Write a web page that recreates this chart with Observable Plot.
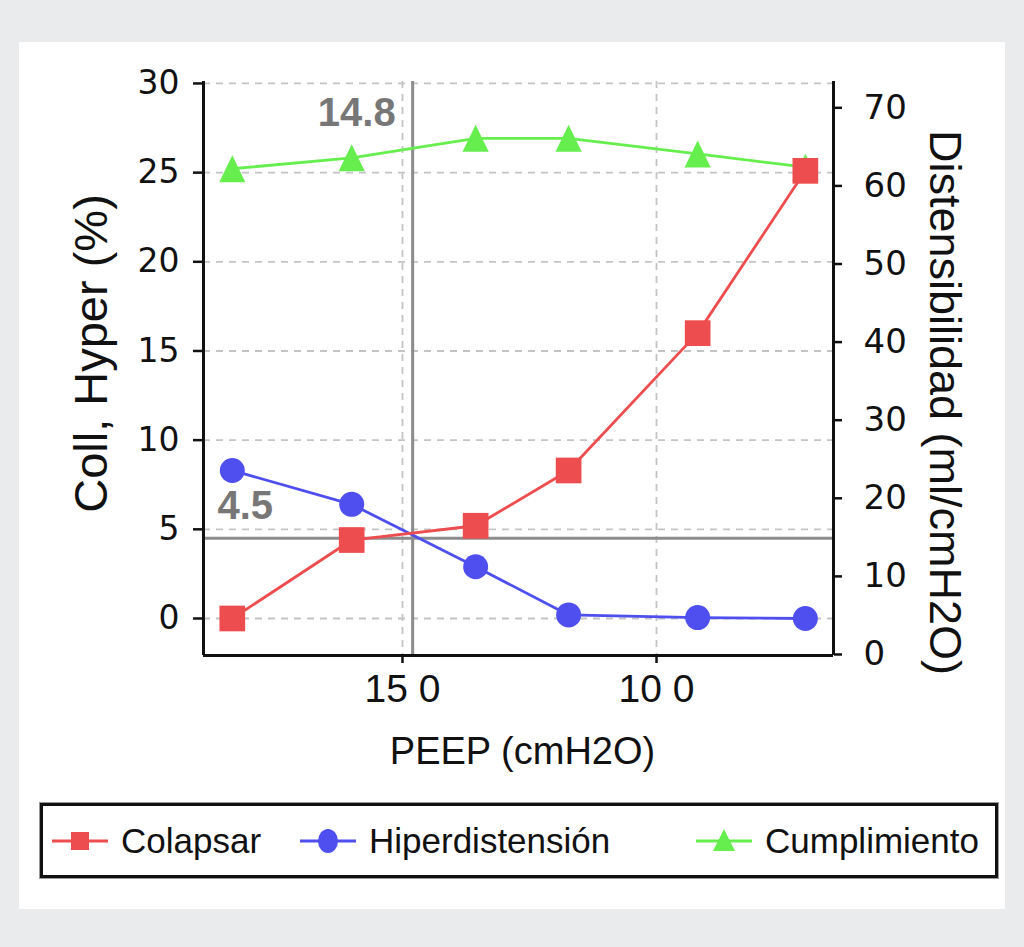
<!DOCTYPE html>
<html>
<head>
<meta charset="utf-8">
<script src="https://cdn.jsdelivr.net/npm/d3@7"></script>
<script src="https://cdn.jsdelivr.net/npm/@observablehq/plot@0.6"></script>
<style>
  html, body { margin: 0; padding: 0; width: 1024px; height: 947px; overflow: hidden; background: #eaebed; }
  #panel { position: absolute; left: 19px; top: 42px; width: 986px; height: 867px; background: #ffffff; }
  #chart { position: absolute; left: 0; top: 0; }
  #legend { position: absolute; left: 40px; top: 803px; width: 952px; height: 69px; border: 3px solid #111; background: #fff;
            box-shadow: 0 0 0 1px #9a9a9a; font-family: "Liberation Sans", Arial, sans-serif; font-size: 35px; color: #111; }
  .item { position: absolute; top: 0; height: 69px; display: flex; align-items: center; white-space: nowrap; }
  .item svg { display: block; margin-right: 13px; }
</style>
</head>
<body>
<div id="panel"></div>
<div id="chart"></div>
<div id="legend"></div>
<script>
// ---- data ----
const peep = [18.35, 16.0, 13.56, 11.73, 9.19, 7.07];
const colapsar = [0, 4.4, 5.2, 8.3, 16.0, 25.1];
const hiperdistension = [8.3, 6.4, 2.9, 0.2, 0.05, 0];
const cumplimiento = [62.2, 63.6, 66.1, 66.1, 64.1, 62.4];

const seriesNames = ["Colapsar", "Hiperdistensión", "Cumplimiento"];
const seriesColors = ["#ee4d4f", "#4f4ff0", "#66ee4f"];
const seriesSymbols = ["square", "circle", "triangle"];

const xTicks = [15, 10];
const xTickLabels = ["15 0", "10 0"];
const leftTicks = [0, 5, 10, 15, 20, 25, 30];
const rightTicks = [0, 10, 20, 30, 40, 50, 60, 70];

const peepThreshold = 14.8;
const collThreshold = 4.5;

const xDomain = [18.917, 6.516];
const leftDomain = [-2.075, 30.11];
const rightDomain = [-0.13, 73.37];

const xLabel = "PEEP (cmH2O)";
const leftLabel = "Coll, Hyper (%)";
const rightLabel = "Distensibilidad (ml/cmH2O)";

// ---- helpers ----
const toLeft = r => leftDomain[0] + (r - rightDomain[0]) / (rightDomain[1] - rightDomain[0]) * (leftDomain[1] - leftDomain[0]);
const toRight = l => rightDomain[0] + (l - leftDomain[0]) / (leftDomain[1] - leftDomain[0]) * (rightDomain[1] - rightDomain[0]);

const triUp = {
  draw(context, size) {
    const a = Math.sqrt(size / Math.PI);
    context.moveTo(0, -a);
    context.lineTo(a * 0.97, a);
    context.lineTo(-a * 0.97, a);
    context.closePath();
  }
};

const data = peep.map((p, i) => ({
  peep: p,
  col: colapsar[i],
  hip: hiperdistension[i],
  cum: toLeft(cumplimiento[i])
}));

const sans = "Liberation Sans, Arial, sans-serif";
const tickFont = "DejaVu Sans, sans-serif";
const ink = "#111";
const refGray = "#8c8c8c";
const lw = 2.8;

const chart = Plot.plot({
  width: 1024,
  height: 790,
  marginLeft: 203,
  marginRight: 191,
  marginTop: 81,
  marginBottom: 135,
  style: { background: "transparent", overflow: "visible", fontFamily: sans },
  x: { domain: xDomain },
  y: { domain: leftDomain },
  marks: [
    Plot.gridY(leftTicks, { stroke: "#c4c4c4", strokeOpacity: 1, strokeWidth: 1.8, strokeDasharray: "7,6" }),
    Plot.gridX(xTicks, { stroke: "#c4c4c4", strokeOpacity: 1, strokeWidth: 1.8, strokeDasharray: "7,6" }),
    Plot.ruleX([peepThreshold], { stroke: refGray, strokeWidth: 3 }),
    Plot.ruleY([collThreshold], { stroke: refGray, strokeWidth: 3 }),

    Plot.line(data, { x: "peep", y: "cum", stroke: seriesColors[2], strokeWidth: lw }),
    Plot.dot(data, { x: "peep", y: "cum", symbol: triUp, r: 13.5, fill: seriesColors[2], stroke: "none" }),

    Plot.line(data, { x: "peep", y: "hip", stroke: seriesColors[1], strokeWidth: lw }),
    Plot.dot(data, { x: "peep", y: "hip", symbol: "circle", r: 12.5, fill: seriesColors[1], stroke: "none" }),

    Plot.line(data, { x: "peep", y: "col", stroke: seriesColors[0], strokeWidth: lw }),
    Plot.dot(data, { x: "peep", y: "col", symbol: "square", r: 14.5, fill: seriesColors[0], stroke: "none" }),

    // spines (left, right, bottom)
    Plot.ruleX([xDomain[0], xDomain[1]], { stroke: ink, strokeWidth: 3 }),
    Plot.ruleY([leftDomain[0]], { stroke: ink, strokeWidth: 3 }),

    // axes
    Plot.axisX(xTicks, {
      tickFormat: d => xTickLabels[xTicks.indexOf(d)],
      tickSize: 8, tickPadding: 11, fontSize: 39, fontFamily: sans,
      color: ink, strokeWidth: 2.5, label: null
    }),
    Plot.axisY(leftTicks, {
      anchor: "left", tickSize: 10, tickPadding: 14, fontSize: 33, fontFamily: tickFont,
      color: ink, strokeWidth: 2.5, label: null
    }),
    Plot.axisY(rightTicks.map(toLeft), {
      anchor: "right", tickSize: 8, tickPadding: 22, fontSize: 34, fontFamily: tickFont,
      tickFormat: d => String(Math.round(toRight(d))),
      color: ink, strokeWidth: 2.5, label: null
    }),

    // axis titles
    Plot.text([xLabel], { text: d => d, frameAnchor: "bottom", lineAnchor: "top", dy: 82, dx: 4,
      fontSize: 38, fontFamily: sans, fill: ink }),
    Plot.text([leftLabel], { text: d => d, frameAnchor: "left", rotate: -90, textAnchor: "middle", lineAnchor: "middle",
      dx: -112, dy: -15, fontSize: 47, fontFamily: sans, fill: ink }),
    Plot.text([rightLabel], { text: d => d, frameAnchor: "right", rotate: 90, textAnchor: "middle", lineAnchor: "middle",
      dx: 111, dy: 34, fontSize: 45, fontFamily: sans, fill: ink }),

    // threshold annotations
    Plot.text([peepThreshold], { x: d => d, text: d => d.toFixed(1), frameAnchor: "top", lineAnchor: "top",
      textAnchor: "end", dx: -17, dy: 16, fontSize: 40, fontWeight: "bold", fontFamily: sans, fill: "#777" }),
    Plot.text([collThreshold], { y: d => d, text: d => d.toFixed(1), frameAnchor: "left", lineAnchor: "middle",
      textAnchor: "start", dx: 14, dy: -32, fontSize: 40, fontWeight: "bold", fontFamily: sans, fill: "#777" })
  ]
});
document.getElementById("chart").appendChild(chart);

// ---- legend ----
const legend = document.getElementById("legend");
const itemLefts = [9, 257, 653];
seriesNames.forEach((name, i) => {
  const item = document.createElement("div");
  item.className = "item";
  item.style.left = itemLefts[i] + "px";
  const ns = "http://www.w3.org/2000/svg";
  const svg = document.createElementNS(ns, "svg");
  svg.setAttribute("width", 56);
  svg.setAttribute("height", 40);
  const line = document.createElementNS(ns, "line");
  line.setAttribute("x1", 0); line.setAttribute("x2", 56);
  line.setAttribute("y1", 20); line.setAttribute("y2", 20);
  line.setAttribute("stroke", seriesColors[i]); line.setAttribute("stroke-width", 3);
  svg.appendChild(line);
  let m;
  if (seriesSymbols[i] === "square") {
    m = document.createElementNS(ns, "rect");
    m.setAttribute("x", 19); m.setAttribute("y", 11); m.setAttribute("width", 18); m.setAttribute("height", 18);
  } else if (seriesSymbols[i] === "circle") {
    m = document.createElementNS(ns, "ellipse");
    m.setAttribute("cx", 28); m.setAttribute("cy", 20); m.setAttribute("rx", 10); m.setAttribute("ry", 12);
  } else {
    m = document.createElementNS(ns, "path");
    m.setAttribute("d", "M28,8 L39,30 L17,30 Z");
  }
  m.setAttribute("fill", seriesColors[i]);
  svg.appendChild(m);
  item.appendChild(svg);
  const label = document.createElement("span");
  label.textContent = name;
  item.appendChild(label);
  legend.appendChild(item);
});
</script>
</body>
</html>
